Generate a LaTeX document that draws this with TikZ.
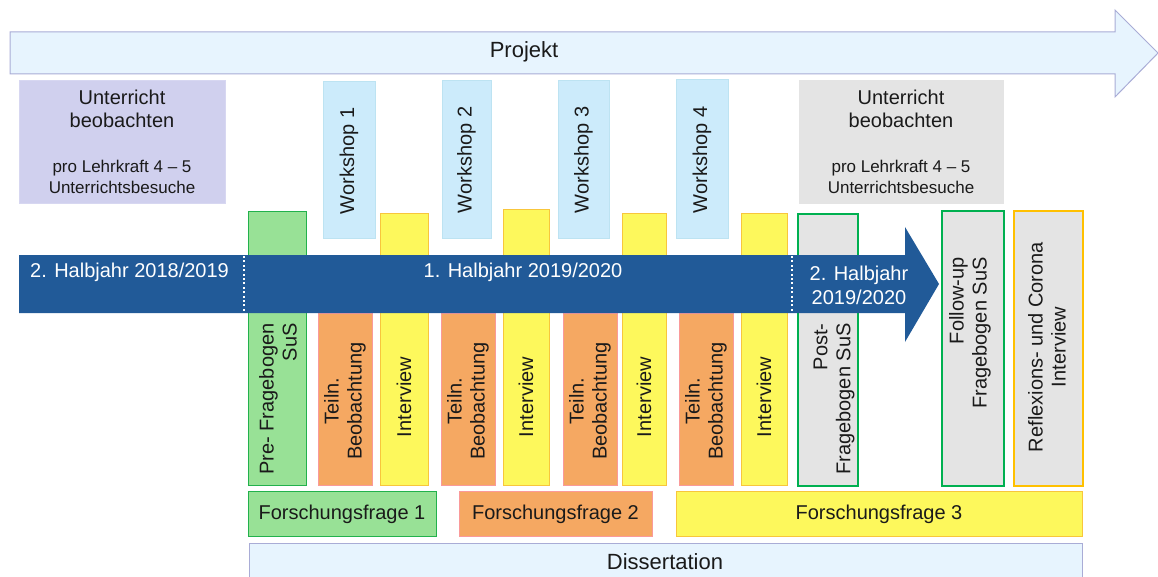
\documentclass[tikz,border=0pt]{standalone}
\usepackage{fontspec}
\setmainfont{Liberation Sans}

\definecolor{projfill}{HTML}{E7F4FE}
\definecolor{projline}{HTML}{A9ACD6}
\definecolor{lavender}{HTML}{D0D0EE}
\definecolor{greybox}{HTML}{E4E4E4}
\definecolor{wsfill}{HTML}{CCEBFB}
\definecolor{wsline}{HTML}{BDE3F2}
\definecolor{bandblue}{HTML}{215A98}
\definecolor{greenfill}{HTML}{98E196}
\definecolor{greenline}{HTML}{22B14C}
\definecolor{greenthick}{HTML}{00B050}
\definecolor{orangefill}{HTML}{F5A862}
\definecolor{orangeline}{HTML}{FA9A9A}
\definecolor{yellowfill}{HTML}{FDF85C}
\definecolor{yellowline}{HTML}{F8C63C}
\definecolor{goldline}{HTML}{FFC000}
\definecolor{txt}{HTML}{1A1A1A}

% block given by its top-left and bottom-right corners
\newcommand{\blk}[6]{\node[#2, anchor=north west, minimum width={(#5-#3)*1pt}, minimum height={(#6-#4)*1pt}] (#1) at (#3,#4) {};}

\begin{document}
\begin{tikzpicture}[x=1pt,y=-1pt,
  box/.style={inner sep=0pt, outer sep=0pt, line width=0.8pt},
  lav/.style={box, fill=lavender, draw=lavender!85!white},
  grey/.style={box, fill=greybox, draw=greybox},
  ws/.style={box, fill=wsfill, draw=wsline},
  grn/.style={box, fill=greenfill, draw=greenline},
  org/.style={box, fill=orangefill, draw=orangeline},
  yel/.style={box, fill=yellowfill, draw=yellowline},
  greygreen/.style={box, fill=greybox, draw=greenthick, line width=2.4pt},
  greygold/.style={box, fill=greybox, draw=goldline, line width=2.4pt},
  diss/.style={box, fill=projfill, draw=projline, line width=1pt},
  lbl/.style={text=txt, font=\fontsize{20}{23}\selectfont, inner sep=0pt},
  vlbl/.style={lbl, rotate=90},
  small/.style={text=txt, font=\fontsize{17}{21}\selectfont, inner sep=0pt, align=center},
  big/.style={text=txt, font=\fontsize{22}{26}\selectfont, inner sep=0pt},
  wlbl/.style={text=white, font=\fontsize{20}{24}\selectfont, inner sep=0pt},
  sep/.style={white, line width=1.8pt, dash pattern=on 2pt off 2.4pt}
]
\useasboundingbox (0,0) rectangle (1158,577);
\clip (0,0) rectangle (1158,577);

% project arrow
\draw[fill=projfill, draw=projline, line width=1pt]
  (10,32) -- (1115,32) -- (1115,10) -- (1158,53) -- (1115,97) -- (1115,74) -- (10,74) -- cycle;
\node[big] (projekt) at (524,52) {Projekt};

% classroom observation blocks
\blk{obsA}{lav}{19}{80}{225}{203}
\node[lbl, align=center] (obsAt) at (122,109) {Unterricht\\beobachten};
\node[small] (obsAs) at (122,177) {pro Lehrkraft 4 -- 5\\Unterrichtsbesuche};
\blk{obsB}{grey}{799}{80}{1003}{203}
\node[lbl, align=center] (obsBt) at (901,109) {Unterricht\\beobachten};
\node[small] (obsBs) at (901,177) {pro Lehrkraft 4 -- 5\\Unterrichtsbesuche};

% workshops
\blk{ws1}{ws}{323}{81}{375}{238}
\blk{ws2}{ws}{442}{80}{491}{238}
\blk{ws3}{ws}{558}{80}{609}{238}
\blk{ws4}{ws}{676}{79}{728}{238}
\node[vlbl] (ws1t) at (349,161) {Workshop 1};
\node[vlbl] (ws2t) at (466.5,160) {Workshop 2};
\node[vlbl] (ws3t) at (583.5,160) {Workshop 3};
\node[vlbl] (ws4t) at (702,160) {Workshop 4};

% questionnaires and interviews
\blk{pre}{grn}{248}{211}{306}{485}
\blk{int1}{yel}{380}{213}{428}{485}
\blk{int2}{yel}{503}{209}{549}{485}
\blk{int3}{yel}{622}{213}{666}{485}
\blk{int4}{yel}{741}{213}{787}{485}
\blk{obs1}{org}{318}{313}{372}{485}
\blk{obs2}{org}{441}{313}{495}{485}
\blk{obs3}{org}{563}{313}{617}{485}
\blk{obs4}{org}{679}{313}{733}{485}
\blk{post}{greygreen}{798}{214}{858}{486}
\blk{follow}{greygreen}{942}{211}{1004}{486}
\blk{refl}{greygold}{1014}{211}{1083}{486}

% time band
\fill[bandblue] (19,255) -- (905,255) -- (905,227) -- (939,284) -- (905,342) -- (905,313) -- (19,313) -- cycle;
\draw[sep] (244,256) -- (244,313);
\draw[sep] (792,256) -- (792,313);
\node[wlbl, anchor=west] (hj1) at (30,272) {2. Halbjahr 2018/2019};
\node[wlbl] (hj2) at (523,272) {1. Halbjahr 2019/2020};
\node[wlbl, align=center, font=\fontsize{20}{24}\selectfont] (hj3) at (859,285) {2. Halbjahr\\2019/2020};

% bar labels
\node[vlbl, align=right] (pret) at (278,399) {Pre- Fragebogen\\SuS};
\foreach \n/\x in {1/345,2/468,3/590,4/706}
  \node[vlbl, align=center] (obs\n t) at (\x,401) {Teiln.\\Beobachtung};
\foreach \n/\x in {1/404,2/526,3/644,4/764}
  \node[vlbl] (int\n t) at (\x,397) {Interview};
\node[vlbl, align=right] (postt) at (834,399) {Post-\\Fragebogen SuS};
\node[vlbl, align=right] (followt) at (970,333) {Follow-up\\Fragebogen SuS};
\node[vlbl, align=center] (reflt) at (1047,347) {Reflexions- und Corona\\Interview};

% research questions
\blk{ff1}{grn}{248}{491}{436}{536}
\blk{ff2}{org}{459}{491}{652}{536}
\blk{ff3}{yel}{676}{491}{1082}{536}
\node[lbl] (ff1t) at (342,514) {Forschungsfrage 1};
\node[lbl] (ff2t) at (555.5,514) {Forschungsfrage 2};
\node[lbl] (ff3t) at (879,514) {Forschungsfrage 3};

% dissertation
\blk{dis}{diss}{249}{543}{1082}{600}
\node[big] (dist) at (665,562) {Dissertation};
\end{tikzpicture}
\end{document}
